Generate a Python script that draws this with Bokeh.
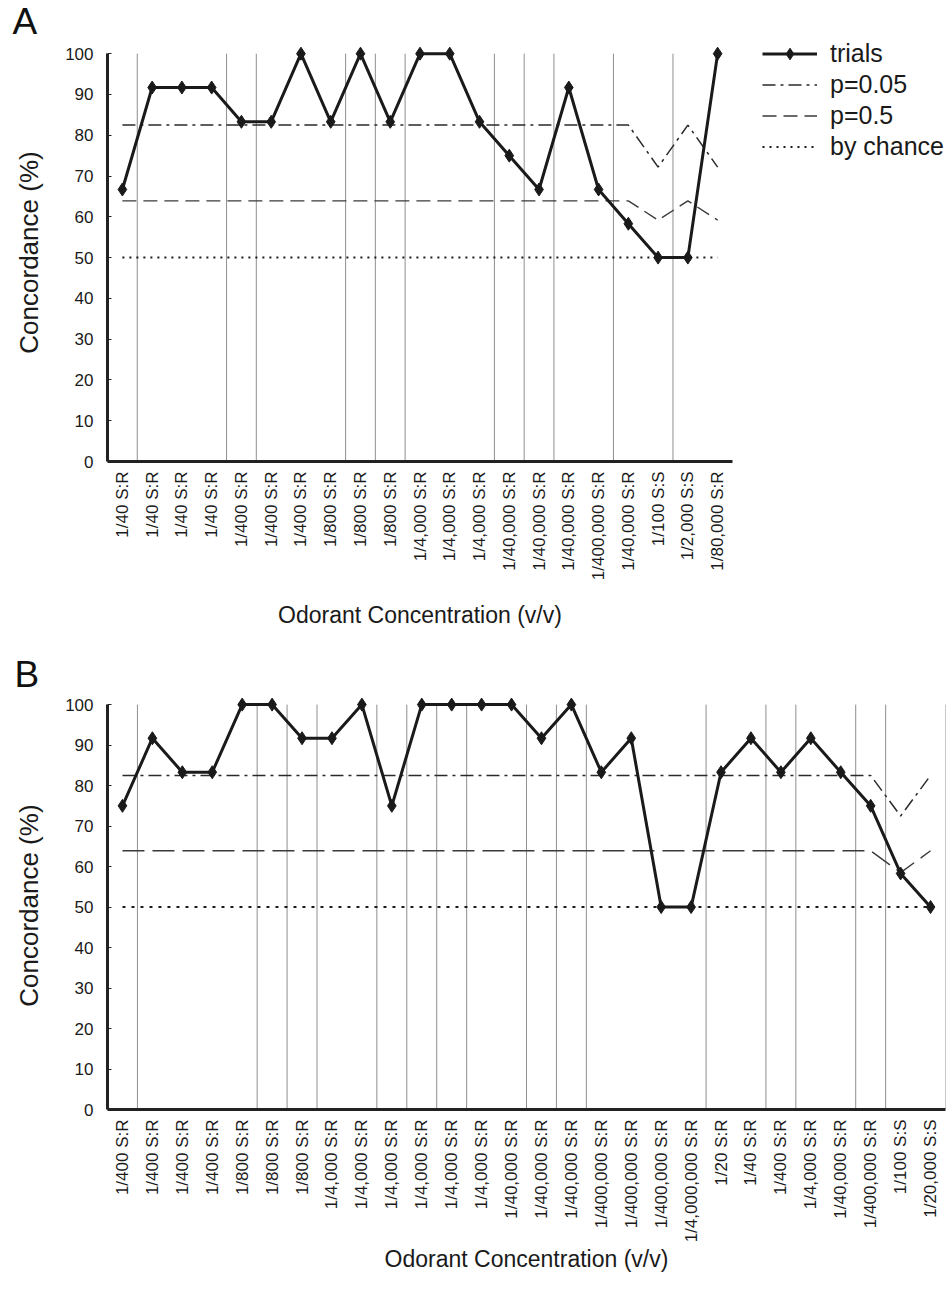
import math
from bokeh.plotting import figure
from bokeh.models import Range1d, FixedTicker, Legend, LegendItem, Title
from bokeh.layouts import column
from bokeh.embed import file_html
from bokeh.resources import INLINE

# ---------------- data: panel A ----------------
labels_a = ["1/40 S:R", "1/40 S:R", "1/40 S:R", "1/40 S:R", "1/400 S:R", "1/400 S:R",
            "1/400 S:R", "1/800 S:R", "1/800 S:R", "1/800 S:R", "1/4,000 S:R", "1/4,000 S:R",
            "1/4,000 S:R", "1/40,000 S:R", "1/40,000 S:R", "1/40,000 S:R", "1/400,000 S:R",
            "1/40,000 S:R", "1/100 S:S", "1/2,000 S:S", "1/80,000 S:R"]
trials_a = [66.7, 91.7, 91.7, 91.7, 83.3, 83.3, 100, 83.3, 100, 83.3, 100, 100, 83.3,
            75, 66.7, 91.7, 66.7, 58.3, 50, 50, 100]
p05_a = [82.5, 82.5, 82.5, 82.5, 82.5, 82.5, 82.5, 82.5, 82.5, 82.5, 82.5, 82.5, 82.5,
         82.5, 82.5, 82.5, 82.5, 82.5, 72.2, 82.5, 72.2]
p5_a = [63.9, 63.9, 63.9, 63.9, 63.9, 63.9, 63.9, 63.9, 63.9, 63.9, 63.9, 63.9, 63.9,
        63.9, 63.9, 63.9, 63.9, 63.9, 59.2, 63.9, 59.2]
chance_a = [50, 50, 50, 50, 50, 50, 50, 50, 50, 50, 50, 50, 50, 50, 50, 50, 50, 50, 50, 50, 50]
sessions_a = [1, 2, 2, 2, 3, 4, 4, 4, 5, 6, 7, 7, 7, 8, 9, 10, 10, 11, 11, 12, 12]

# ---------------- data: panel B ----------------
labels_b = ["1/400 S:R", "1/400 S:R", "1/400 S:R", "1/400 S:R", "1/800 S:R", "1/800 S:R",
            "1/800 S:R", "1/4,000 S:R", "1/4,000 S:R", "1/4,000 S:R", "1/4,000 S:R",
            "1/4,000 S:R", "1/4,000 S:R", "1/40,000 S:R", "1/40,000 S:R", "1/40,000 S:R",
            "1/400,000 S:R", "1/400,000 S:R", "1/400,000 S:R", "1/4,000,000 S:R", "1/20 S:R",
            "1/40 S:R", "1/400 S:R", "1/4,000 S:R", "1/40,000 S:R", "1/400,000 S:R",
            "1/100 S:S", "1/20,000 S:S"]
trials_b = [75, 91.7, 83.3, 83.3, 100, 100, 91.7, 91.7, 100, 75, 100, 100, 100, 100,
            91.7, 100, 83.3, 91.7, 50, 50, 83.3, 91.7, 83.3, 91.7, 83.3, 75, 58.3, 50]
p05_b = [82.5, 82.5, 82.5, 82.5, 82.5, 82.5, 82.5, 82.5, 82.5, 82.5, 82.5, 82.5, 82.5, 82.5,
         82.5, 82.5, 82.5, 82.5, 82.5, 82.5, 82.5, 82.5, 82.5, 82.5, 82.5, 82.5, 72.5, 82.5]
p5_b = [63.9, 63.9, 63.9, 63.9, 63.9, 63.9, 63.9, 63.9, 63.9, 63.9, 63.9, 63.9, 63.9, 63.9,
        63.9, 63.9, 63.9, 63.9, 63.9, 63.9, 63.9, 63.9, 63.9, 63.9, 63.9, 63.9, 58.5, 63.9]
chance_b = [50, 50, 50, 50, 50, 50, 50, 50, 50, 50, 50, 50, 50, 50,
            50, 50, 50, 50, 50, 50, 50, 50, 50, 50, 50, 50, 50, 50]
sessions_b = [1, 2, 2, 2, 2, 3, 4, 5, 5, 6, 7, 8, 9, 9, 10, 11, 12, 12, 12, 12,
              13, 13, 14, 15, 15, 16, 17, 17]

y_ticks = [0, 10, 20, 30, 40, 50, 60, 70, 80, 90, 100]

FONT = "Liberation Sans"
Y_TOP = 102.5


def make_panel(letter, labels, trials, p05, p5, chance, sessions, ylabel,
               frame_w, frame_h, border_left, border_top, border_bottom, border_right,
               dash_p5, dash_chance, close_right, with_legend, letter_valign,
               xlabel_standoff):
    n = len(labels)
    xs = list(range(1, n + 1))
    p = figure(frame_width=frame_w, frame_height=frame_h, output_backend="svg",
               toolbar_location=None,
               x_range=Range1d(0.5, n + 0.5), y_range=Range1d(0, Y_TOP),
               min_border_left=border_left, min_border_top=border_top,
               min_border_bottom=border_bottom, min_border_right=border_right)
    p.outline_line_color = None
    p.xgrid.visible = False
    p.ygrid.visible = False
    p.background_fill_color = "white"
    p.border_fill_color = "white"

    # panel letter
    t = Title(text=letter, align="left", offset=-border_left + 12, standoff=0,
              vertical_align=letter_valign,
              text_font=FONT, text_font_size="37px", text_font_style="normal",
              text_color="#111111", text_line_height=1.0)
    p.add_layout(t, "above")

    # session separators
    bx = [i + 0.5 for i in range(1, n) if sessions[i] != sessions[i - 1]]
    if close_right:
        bx.append(n + 0.5)
    p.segment(x0=bx, y0=[0] * len(bx), x1=bx, y1=[100] * len(bx),
              line_color="#8f8f8f", line_width=1)

    r05 = p.line(xs, p05, line_color="#2a2a2a", line_width=1.5, line_dash="13 5 3 5")
    r5 = p.line(xs, p5, line_color="#3a3a3a", line_width=1.4, line_dash=dash_p5)
    rch = p.line(xs, chance, line_color="#1a1a1a", line_width=2, line_dash=dash_chance)
    rt = p.line(xs, trials, line_color="#1a1a1a", line_width=3)
    rm = p.scatter(xs, trials, marker="diamond", size=13, fill_color="#1a1a1a",
                   line_color="#1a1a1a")

    # axes
    xa = p.xaxis[0]
    xa.ticker = FixedTicker(ticks=xs)
    xa.major_label_overrides = {x: lab for x, lab in zip(xs, labels)}
    xa.major_label_orientation = math.pi / 2
    xa.major_tick_in = 0
    xa.major_tick_out = 0
    xa.minor_tick_in = 0
    xa.minor_tick_out = 0
    xa.axis_line_width = 3
    xa.axis_line_color = "#222222"
    xa.major_label_text_font = FONT
    xa.major_label_text_font_size = "17px"
    xa.major_label_text_color = "#1a1a1a"
    xa.major_label_standoff = 10
    xa.axis_label = "Odorant Concentration (v/v)"
    xa.axis_label_text_font = FONT
    xa.axis_label_text_font_size = "23px"
    xa.axis_label_text_font_style = "normal"
    xa.axis_label_text_color = "#1a1a1a"
    xa.axis_label_standoff = xlabel_standoff

    ya = p.yaxis[0]
    ya.ticker = FixedTicker(ticks=y_ticks)
    ya.bounds = (0, 100)
    ya.major_tick_in = 4
    ya.major_tick_out = 0
    ya.minor_tick_in = 0
    ya.minor_tick_out = 0
    ya.axis_line_width = 3
    ya.axis_line_color = "#222222"
    ya.major_tick_line_color = "#222222"
    ya.major_label_text_font = FONT
    ya.major_label_text_font_size = "17px"
    ya.major_label_text_color = "#1a1a1a"
    ya.major_label_standoff = 14
    ya.axis_label = ylabel
    ya.axis_label_text_font = FONT
    ya.axis_label_text_font_size = "26px"
    ya.axis_label_text_font_style = "normal"
    ya.axis_label_text_color = "#1a1a1a"
    ya.axis_label_standoff = 18

    if with_legend:
        leg = Legend(items=[LegendItem(label="trials", renderers=[rt, rm]),
                            LegendItem(label="p=0.05", renderers=[r05]),
                            LegendItem(label="p=0.5", renderers=[r5]),
                            LegendItem(label="by chance", renderers=[rch])],
                     location=(30, frame_h - 118))
        leg.label_text_font = FONT
        leg.label_text_font_size = "25px"
        leg.label_text_color = "#1a1a1a"
        leg.glyph_width = 55
        leg.glyph_height = 29
        leg.label_height = 29
        leg.label_standoff = 13
        leg.spacing = 2
        leg.padding = 0
        leg.margin = 0
        leg.border_line_color = None
        leg.background_fill_alpha = 0
        p.add_layout(leg, "right")
    return p


pa = make_panel("A", labels_a, trials_a, p05_a, p5_a, chance_a, sessions_a,
                "Concordance (%)", 625, 418, 107, 43, 189, 215,
                "14 7", "2 5", False, True, "top", 19)
pb = make_panel("B", labels_b, trials_b, p05_b, p5_b, chance_b, sessions_b,
                "Concordance  (%)", 838, 415, 105, 44, 186, 4,
                "22 8", "3 6", True, False, "bottom", 1)

layout = column(pa, pb, spacing=0)
open("out.html", "w").write(file_html(layout, INLINE))
